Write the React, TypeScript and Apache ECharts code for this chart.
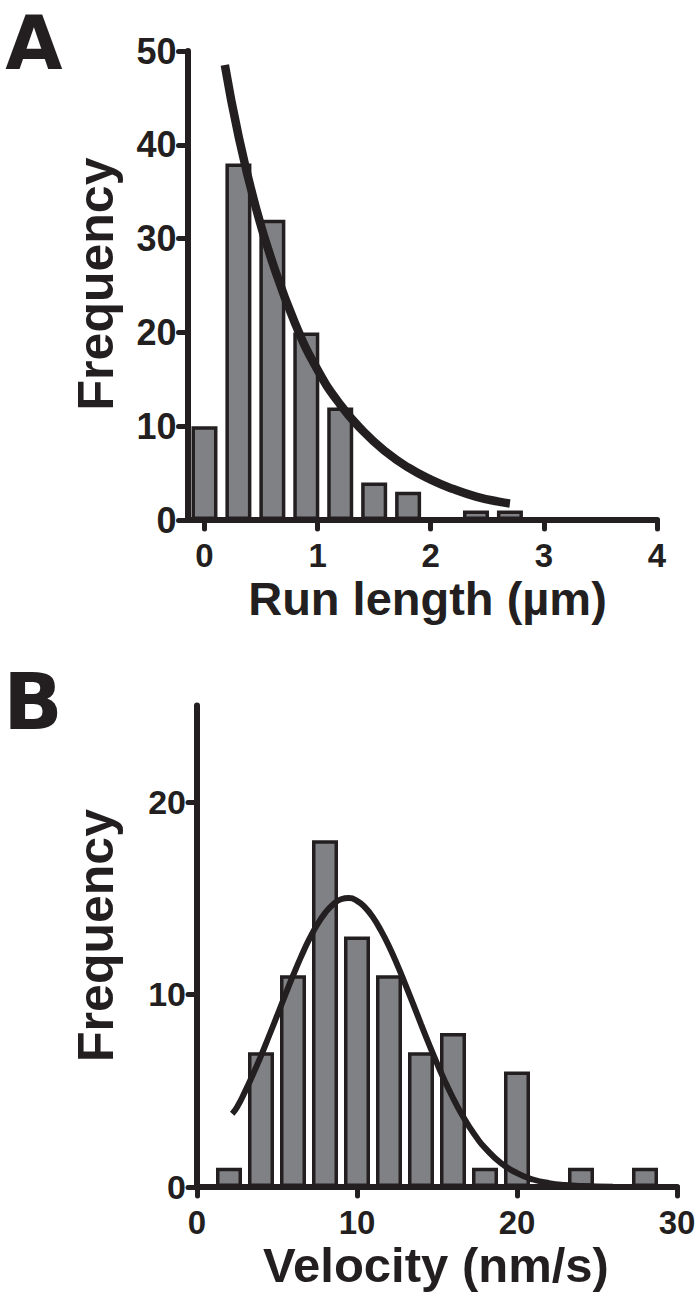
import React, { useEffect, useRef } from "react";
import * as echarts from "echarts";

// Panel A: run length histogram (bin centres in µm) and exponential fit
const runLengthBins = [0, 0.3, 0.6, 0.9, 1.2, 1.5, 1.8, 2.1, 2.4, 2.7];
const runLengthCounts = [10, 38, 32, 20, 12, 4, 3, 0, 1, 1];
const runFitX = [0.18, 0.3, 0.45, 0.6, 0.8, 1.0, 1.2, 1.4, 1.6, 1.8, 2.0, 2.2, 2.4, 2.6, 2.7];
const runFitY = [48.5, 41, 33.5, 27.5, 21, 16, 12.3, 9.5, 7.3, 5.6, 4.3, 3.3, 2.5, 1.95, 1.75];
const runXTicks = [0, 1, 2, 3, 4];
const runYTicks = [0, 10, 20, 30, 40, 50];

// Panel B: velocity histogram (bin centres in nm/s) and Gaussian fit
const velocityBins = [2, 4, 6, 8, 10, 12, 14, 16, 18, 20, 22, 24, 26, 28];
const velocityCounts = [1, 7, 11, 18, 13, 11, 7, 8, 1, 6, 0, 1, 0, 1];
const velFitX = [
  2.2, 2.5, 3, 3.5, 4, 4.5, 5, 5.5, 6, 6.5, 7, 7.5, 8, 8.5, 9, 9.5, 10, 10.5, 11, 11.5, 12,
  12.5, 13, 13.5, 14, 14.5, 15, 15.5, 16, 16.5, 17, 17.5, 18, 19, 20, 21, 22, 23, 24, 26,
];
const velFitY = [
  3.8, 4.14, 4.95, 5.85, 6.81, 7.84, 8.88, 9.94, 10.97, 11.95, 12.84, 13.6, 14.22, 14.67,
  14.94, 15.0, 14.86, 14.52, 14.0, 13.31, 12.5, 11.57, 10.56, 9.52, 8.46, 7.42, 6.42, 5.48,
  4.62, 3.84, 3.15, 2.54, 2.03, 1.24, 0.72, 0.39, 0.2, 0.1, 0.05, 0.01,
];
const velXTicks = [0, 10, 20, 30];
const velYTicks = [0, 10, 20];

const INK = "#231f20";
const BAR = "#808184";
const FONT = "Liberation Sans";

function pairs(xs: number[], ys: number[], dropZero = false) {
  const out: number[][] = [];
  xs.forEach((x, i) => {
    if (dropZero && ys[i] === 0) return;
    out.push([x, ys[i]]);
  });
  return out;
}

function axisCommon(ticks: number[], fontSize: number, margin: number) {
  return {
    axisLine: { show: true, onZero: false, lineStyle: { color: INK, width: 6 } },
    axisTick: { show: true, customValues: ticks, length: 9, lineStyle: { color: INK, width: 5, cap: "round" } },
    axisLabel: {
      customValues: ticks,
      margin,
      fontSize,
      fontWeight: "bold",
      fontFamily: FONT,
      color: INK,
    },
    splitLine: { show: false },
  };
}

function label(text: string, x: number, y: number, size: number, rotate = false, family = FONT) {
  return {
    type: "text",
    x,
    y,
    rotation: rotate ? Math.PI / 2 : 0,
    style: {
      text,
      fontSize: size,
      fontWeight: "bold",
      fontFamily: family,
      fill: INK,
      align: "center",
      verticalAlign: "middle",
      textAlign: "center",
      textVerticalAlign: "middle",
    },
  };
}

export default function App() {
  const ref = useRef<HTMLDivElement>(null);
  useEffect(() => {
    if (!ref.current) return;
    const chart = echarts.init(ref.current, undefined, { renderer: "svg" });
    const option: any = {
      animation: false,
      backgroundColor: "#ffffff",
      grid: [
        { left: 187.5, top: 51, width: 469.5, height: 469, outerBoundsMode: "none" },
        { left: 197, top: 705.5, width: 480, height: 481.5, outerBoundsMode: "none" },
      ],
      xAxis: [
        { gridIndex: 0, type: "value", min: -0.15, max: 4, ...axisCommon(runXTicks, 33, 19) },
        { gridIndex: 1, type: "value", min: 0, max: 30, ...axisCommon(velXTicks, 33, 19) },
      ],
      yAxis: [
        { gridIndex: 0, type: "value", min: 0, max: 50, ...axisCommon(runYTicks, 36, 11) },
        { gridIndex: 1, type: "value", min: 0, max: 25, ...axisCommon(velYTicks, 34, 11) },
      ],
      series: [
        {
          type: "bar",
          xAxisIndex: 0,
          yAxisIndex: 0,
          barWidth: 26,
          data: pairs(runLengthBins, runLengthCounts, true),
          itemStyle: { color: BAR, borderColor: INK, borderWidth: 3.5 },
          z: 2,
        },
        {
          type: "line",
          xAxisIndex: 0,
          yAxisIndex: 0,
          data: pairs(runFitX, runFitY),
          smooth: true,
          showSymbol: false,
          lineStyle: { color: INK, width: 8.5 },
          z: 3,
        },
        {
          type: "bar",
          xAxisIndex: 1,
          yAxisIndex: 1,
          barWidth: 26,
          data: pairs(velocityBins, velocityCounts, true),
          itemStyle: { color: BAR, borderColor: INK, borderWidth: 3.5 },
          z: 2,
        },
        {
          type: "line",
          xAxisIndex: 1,
          yAxisIndex: 1,
          data: pairs(velFitX, velFitY),
          smooth: true,
          showSymbol: false,
          lineStyle: { color: INK, width: 6 },
          z: 3,
        },
      ],
      graphic: [
        label("A", 34, 43, 74, false, "DejaVu Sans"),
        label("B", 33, 702, 78, false, "DejaVu Sans"),
        label("Frequency", 96, 284, 50, true),
        label("Frequency", 96, 935.5, 50, true),
        label("Run length (µm)", 427.5, 598, 47),
        label("Velocity (nm/s)", 436, 1264.5, 49),
      ],
    };
    chart.setOption(option);
    return () => chart.dispose();
  }, []);
  return (
    <div
      ref={ref}
      style={{ position: "absolute", left: 0, top: 0, width: 700, height: 1306, background: "#fff" }}
    />
  );
}
